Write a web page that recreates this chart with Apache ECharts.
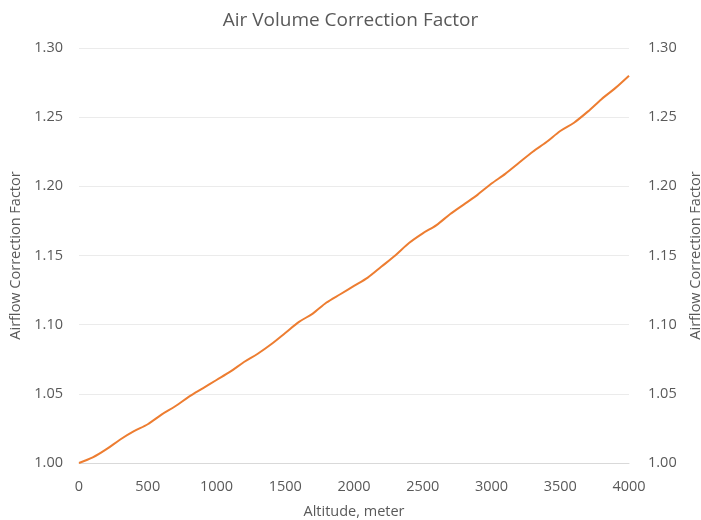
<!DOCTYPE html>
<html><head><meta charset="utf-8">
<script src="https://cdn.jsdelivr.net/npm/echarts@6/dist/echarts.min.js"></script>
<style>html,body{margin:0;padding:0;background:#fff}#c{width:701px;height:520px}</style>
</head><body><div id="c"></div>
<script>
const altitudes = [0,100,200,300,400,500,600,700,800,900,1000,1100,1200,1300,1400,1500,1600,1700,1800,1900,2000,2100,2200,2300,2400,2500,2600,2700,2800,2900,3000,3100,3200,3300,3400,3500,3600,3700,3800,3900,4000];
const factors = [1.000,1.004,1.010,1.017,1.023,1.028,1.035,1.041,1.048,1.054,1.060,1.066,1.073,1.079,1.086,1.094,1.102,1.108,1.116,1.122,1.128,1.134,1.142,1.150,1.159,1.166,1.172,1.180,1.187,1.194,1.202,1.209,1.217,1.225,1.232,1.240,1.246,1.254,1.263,1.271,1.280];
const font = 'Open Sans';
const txt = '#595959';
const chart = echarts.init(document.getElementById('c'));
const yAxisCommon = {
  type:'value', min:1.00, max:1.30, interval:0.05,
  name:'Airflow Correction Factor', nameLocation:'middle',
  nameTextStyle:{color:txt,fontFamily:font,fontSize:14.5},
  axisLabel:{color:txt,fontFamily:font,fontSize:14.5,formatter:v=>v.toFixed(2)},
  axisLine:{show:false}, axisTick:{show:false},
  splitLine:{lineStyle:{color:'#ebebeb',width:1}}
};
chart.setOption({
  animation:false,
  title:{text:'Air Volume Correction Factor',left:'center',top:6,textStyle:{color:txt,fontFamily:font,fontSize:19,fontWeight:'normal'}},
  grid:{left:79,right:72,top:48,bottom:57,containLabel:false,outerBoundsMode:'none'},
  xAxis:{type:'value',min:0,max:4000,interval:500,
    name:'Altitude, meter',nameLocation:'middle',nameGap:41,
    nameTextStyle:{color:txt,fontFamily:font,fontSize:14.5},
    axisLabel:{color:txt,fontFamily:font,fontSize:14.5,margin:16,formatter:v=>String(v)},
    axisLine:{show:true,lineStyle:{color:'#d9d9d9'}},axisTick:{show:false},splitLine:{show:false}},
  yAxis:[
    Object.assign({},yAxisCommon,{position:'left',nameGap:54,axisLabel:Object.assign({},yAxisCommon.axisLabel,{margin:16})}),
    Object.assign({},yAxisCommon,{position:'right',nameGap:59,splitLine:{show:false},axisLabel:Object.assign({},yAxisCommon.axisLabel,{margin:19})})
  ],
  series:[{type:'line',data:altitudes.map((a,i)=>[a,factors[i]]),smooth:0.3,symbol:'none',
    lineStyle:{color:'#ED7D31',width:2},yAxisIndex:0}]
});
</script></body></html>
